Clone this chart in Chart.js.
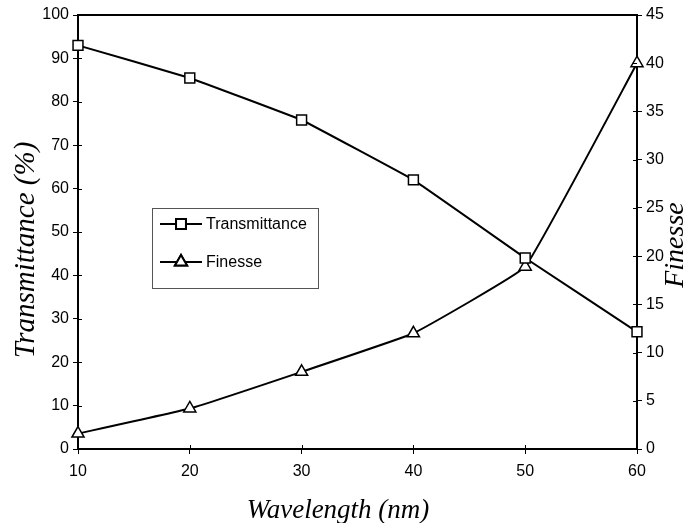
<!DOCTYPE html>
<html>
<head>
<meta charset="utf-8">
<script src="https://cdn.jsdelivr.net/npm/chart.js@4/dist/chart.umd.min.js"></script>
<style>
  html, body { margin: 0; padding: 0; background: #fff; }
  #wrap { width: 692px; height: 523px; }
</style>
</head>
<body>
<div id="wrap"><canvas id="chart" width="692" height="523"></canvas></div>
<script>
// --- 데이터 ---
const wavelengths = [10, 20, 30, 40, 50, 60];
const transmittance = [93, 85.5, 75.8, 62, 44, 27];
const finesse = [1.6, 4.2, 8, 12, 18.9, 40];

const tickFont = { family: "Liberation Sans, Arial", size: 16 };
const serif = "Liberation Serif, Times New Roman";

function drawTitle(ctx, text, x, y, size, rotate) {
  ctx.save();
  ctx.translate(x, y);
  if (rotate) ctx.rotate(-Math.PI / 2);
  ctx.font = "italic " + size + "px " + serif;
  ctx.fillStyle = "#000";
  ctx.textAlign = "center";
  ctx.textBaseline = "middle";
  ctx.fillText(text, 0, 0);
  ctx.restore();
}

// 범례, 위쪽 테두리, 안쪽 눈금, 축 제목
const boxPlugin = {
  id: "boxPlugin",
  afterDraw(chart) {
    const { ctx, chartArea, scales } = chart;
    ctx.save();
    ctx.strokeStyle = "#000";
    ctx.lineWidth = 2;
    ctx.beginPath();
    ctx.moveTo(chartArea.left, chartArea.top);
    ctx.lineTo(chartArea.right, chartArea.top);
    ctx.stroke();

    // 안쪽 눈금 (축을 가로지르는 짧은 선)
    ctx.lineWidth = 1;
    ctx.beginPath();
    scales.y.ticks.forEach(t => {
      const py = Math.round(scales.y.getPixelForValue(t.value)) + 0.5;
      ctx.moveTo(chartArea.left, py); ctx.lineTo(chartArea.left + 4, py);
    });
    scales.y1.ticks.forEach(t => {
      const py = Math.round(scales.y1.getPixelForValue(t.value)) + 0.5;
      ctx.moveTo(chartArea.right, py); ctx.lineTo(chartArea.right - 4, py);
    });
    scales.x.ticks.forEach(t => {
      const px = Math.round(scales.x.getPixelForValue(t.value)) + 0.5;
      ctx.moveTo(px, chartArea.bottom); ctx.lineTo(px, chartArea.bottom - 4);
    });
    ctx.stroke();

    // 축 제목
    drawTitle(ctx, "Transmittance (%)", 26, 250, 29, true);
    drawTitle(ctx, "Finesse", 676, 245, 28, true);
    drawTitle(ctx, "Wavelength (nm)", 338, 511, 27, false);

    // 범례 박스
    const bx = 152, by = 208, bw = 166, bh = 80;
    ctx.lineWidth = 1;
    ctx.strokeStyle = "#555";
    ctx.strokeRect(bx + 0.5, by + 0.5, bw, bh);
    const rows = [by + 16, by + 54];
    chart.data.datasets.forEach((ds, i) => {
      const y = rows[i];
      ctx.strokeStyle = "#000";
      ctx.lineWidth = 2;
      ctx.beginPath();
      ctx.moveTo(bx + 8, y);
      ctx.lineTo(bx + 50, y);
      ctx.stroke();
      const opts = { pointStyle: ds.pointStyle, radius: ds.pointRadius, borderWidth: 1.5 };
      Chart.helpers.drawPoint(ctx, opts, bx + 29, y);
      ctx.fillStyle = "#fff";
      ctx.fill();
      Chart.helpers.drawPoint(ctx, opts, bx + 29, y);
      ctx.fillStyle = "#000";
      ctx.font = "16px Liberation Sans, Arial";
      ctx.textBaseline = "middle";
      ctx.fillText(ds.label, bx + 54, y + 1);
    });
    ctx.restore();
  }
};

new Chart(document.getElementById("chart"), {
  type: "line",
  data: {
    datasets: [
      {
        label: "Transmittance",
        data: wavelengths.map((x, i) => ({ x, y: transmittance[i] })),
        yAxisID: "y",
        borderColor: "#000",
        borderWidth: 2,
        pointStyle: "rect",
        pointRadius: 7,
        pointBorderWidth: 1.5,
        pointBackgroundColor: "#fff",
        pointBorderColor: "#000",
        tension: 0.05,
        clip: false
      },
      {
        label: "Finesse",
        data: wavelengths.map((x, i) => ({ x, y: finesse[i] })),
        yAxisID: "y1",
        borderColor: "#000",
        borderWidth: 2,
        pointStyle: "triangle",
        pointRadius: 7,
        pointBorderWidth: 1.5,
        pointBackgroundColor: "#fff",
        pointBorderColor: "#000",
        tension: 0.08,
        clip: false
      }
    ]
  },
  options: {
    responsive: false,
    animation: false,
    layout: { padding: { top: 15, left: 0, right: 0, bottom: 0 } },
    plugins: { legend: { display: false }, tooltip: { enabled: false } },
    scales: {
      x: {
        type: "linear",
        min: 10, max: 60,
        ticks: { stepSize: 10, color: "#000", font: tickFont, padding: 8 },
        grid: { drawOnChartArea: false, color: "#000", tickLength: 5 },
        border: { color: "#000", width: 2 },
        afterFit(s) { s.height = 74; }
      },
      y: {
        position: "left",
        min: 0, max: 100,
        ticks: { stepSize: 10, color: "#000", font: tickFont, padding: 4 },
        grid: { drawOnChartArea: false, color: "#000", tickLength: 5 },
        border: { color: "#000", width: 2 },
        afterFit(s) { s.width = 78; }
      },
      y1: {
        position: "right",
        min: 0, max: 45,
        ticks: { stepSize: 5, color: "#000", font: tickFont, padding: 4 },
        grid: { drawOnChartArea: false, color: "#000", tickLength: 5 },
        border: { color: "#000", width: 2 },
        afterFit(s) { s.width = 55; }
      }
    }
  },
  plugins: [boxPlugin]
});
</script>
</body>
</html>
